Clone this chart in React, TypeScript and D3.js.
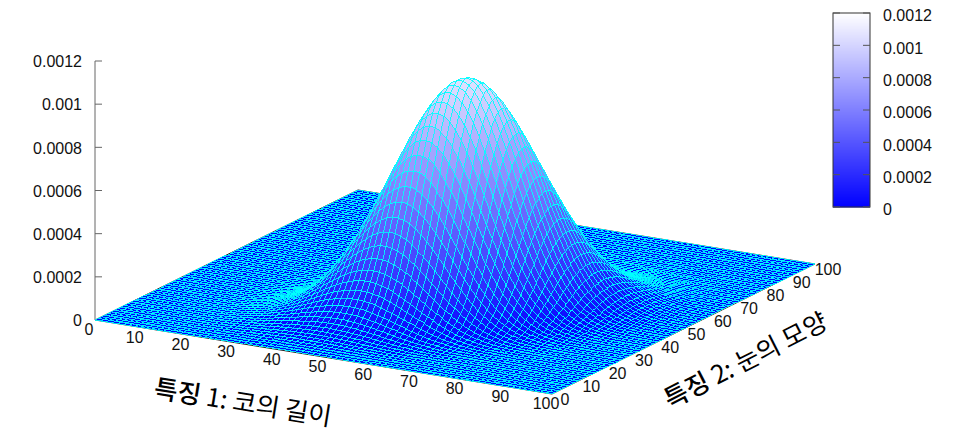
import React from "react";
import * as d3 from "d3";

// Tick labels
const xTicks = [0,10,20,30,40,50,60,70,80,90,100];
const yTicks = [0,10,20,30,40,50,60,70,80,90,100];
const zTicks = [0,0.0002,0.0004,0.0006,0.0008,0.001,0.0012];
const zTickLabels = ["0","0.0002","0.0004","0.0006","0.0008","0.001","0.0012"];

// Surface estimate: height = peakValue * alongRidge * acrossRidge,
// each profile being looked up by the mesh-line distance from the summit.
const peakValue = 0.00107;
const summitSum = 79;   // mesh index i + j at the summit
const summitDiff = 13;  // mesh index i - j at the summit
const meshCells = 80;
const alongRidge = [1,.9981,.9925,.9833,.9705,.9543,.9349,.9124,.8872,.8594,.8294,.7974,.7638,.7289,.693,.6564,.6194,.5824,.5455,.509,.4732,.4382,.4043,.3717,.3404,.3106,.2823,.2557,.2307,.2074,.1857,.1656,.1472,.1304,.115,.1011,.0885,.0772,.0671,.0581,.0501,.0431,.0369,.0315,.0267,.0226,.0191,.016,.0134,.0112,.0093,.0077,.0064,.0052,.0043,.0035,.0028,.0023,.0018,.0015,.0012,.001,.0008,.0006,.0005,.0004,.0003,.0002,.0002,.0001,.0001];
const acrossRidge = [1,.9951,.9805,.9566,.9241,.884,.8373,.7853,.7293,.6706,.6107,.5506,.4915,.4345,.3803,.3296,.2829,.2404,.2023,.1685,.139,.1136,.0919,.0736,.0584,.0458,.0356,.0274,.0209,.0158,.0118,.0087,.0064,.0046,.0033,.0024,.0017,.0012,.0008,.0006,.0004,.0003,.0002,.0001,.0001];

const W = 973, H = 432;
const meshToData = d3.scaleLinear().domain([0,meshCells]).range([0,100]);
// oblique projection: each data axis contributes to both screen axes
const xToSx = d3.scaleLinear().domain([0,100]).range([0,457]);
const xToSy = d3.scaleLinear().domain([0,100]).range([0,74]);
const yToSx = d3.scaleLinear().domain([0,100]).range([0,263]);
const yToSy = d3.scaleLinear().domain([0,100]).range([0,-130]);
const zToPx = d3.scaleLinear().domain([0,0.0012]).range([0,259]);
const originX = 95, originY = 320;
const color = d3.scaleLinear<string>().domain([0,0.0012]).range(["#0000ff","#ffffff"]);
const barScale = d3.scaleLinear().domain([0,0.0012]).range([207,13]);
const project = (x:number,y:number,z:number):[number,number] => [
  originX + xToSx(x) + yToSx(y),
  originY + xToSy(x) + yToSy(y) - zToPx(z),
];
const font = "'Liberation Sans', Arial, sans-serif";
const kr = "'Noto Sans CJK KR', sans-serif";

const height = (i:number,j:number) =>
  peakValue * (alongRidge[Math.abs(i+j-summitSum)] ?? 0) * (acrossRidge[Math.abs(i-j-summitDiff)] ?? 0);
const node = (i:number,j:number) => project(meshToData(i),meshToData(j),height(i,j));
const linePath = d3.line().x(p=>p[0]).y(p=>p[1]).digits(1);

const quads: {d:string,fill:string}[] = [];
for (let i=0;i<meshCells;i++) {
  for (let j=meshCells-1;j>=0;j--) {
    const pts = [node(i,j),node(i+1,j),node(i+1,j+1),node(i,j+1)];
    const avg = d3.mean([height(i,j),height(i+1,j),height(i+1,j+1),height(i,j+1)]) as number;
    quads.push({d:(linePath(pts) as string)+"Z",fill:color(avg)});
  }
}
const floor = (linePath([project(0,0,0),project(100,0,0),project(100,100,0),project(0,100,0)]) as string)+"Z";
const barRows = d3.range(13,207);

export default function App(){
  return (
    <svg width={W} height={H} style={{position:"absolute",left:0,top:0,display:"block",background:"#fff"}}>
      <path d={floor} stroke="#222" strokeWidth={1} fill="none"/>
      <line x1={originX} x2={originX} y1={originY} y2={originY-zToPx(0.0012)} stroke="#666"/>
      {zTicks.map((t,i)=>{const y=originY-zToPx(t);return <g key={i}>
        <line x1={originX} x2={originX+7} y1={y} y2={y} stroke="#666"/>
        <text x={82} y={y+2} textAnchor="end" dominantBaseline="middle" fontFamily={font} fontSize={16} fill="#111">{zTickLabels[i]}</text>
      </g>})}
      {xTicks.map(t=>{const p=project(t,0,0);return <text key={t} x={p[0]-6} y={p[1]+11} textAnchor="middle" dominantBaseline="middle" fontFamily={font} fontSize={16} fill="#111">{t}</text>})}
      {yTicks.map(t=>{const p=project(100,t,0);return <text key={t} x={p[0]+13} y={p[1]+7} textAnchor="middle" dominantBaseline="middle" fontFamily={font} fontSize={16} fill="#111">{t}</text>})}
      <g stroke="#00ffff" strokeWidth={0.8} shapeRendering="crispEdges">
        {quads.map((q,i)=><path key={i} d={q.d} fill={q.fill}/>)}
      </g>
      <text transform="translate(153,397) rotate(9.2)" fontFamily={kr} fontSize={25.5} fill="#000"><tspan fontWeight={500}>특징</tspan> 1: 코의 길이</text>
      <text transform="translate(670,409) rotate(-27)" fontFamily={kr} fontSize={25.5} fill="#000"><tspan fontWeight={500}>특징</tspan> 2: 눈의 모양</text>
      <g>
        {barRows.map(y=><rect key={y} x={833} width={37} y={y} height={1.5} fill={color(barScale.invert(y+0.5))}/>)}
        <rect x={833} y={13} width={37} height={194} fill="none" stroke="#333"/>
        {zTicks.map((t,i)=><g key={i}>
          <line x1={833} x2={840} y1={barScale(t)} y2={barScale(t)} stroke="#555"/>
          <line x1={863} x2={870} y1={barScale(t)} y2={barScale(t)} stroke="#555"/>
          <text x={883} y={barScale(t)+4} dominantBaseline="middle" fontFamily={font} fontSize={16} fill="#111">{zTickLabels[i]}</text>
        </g>)}
      </g>
    </svg>
  );
}
